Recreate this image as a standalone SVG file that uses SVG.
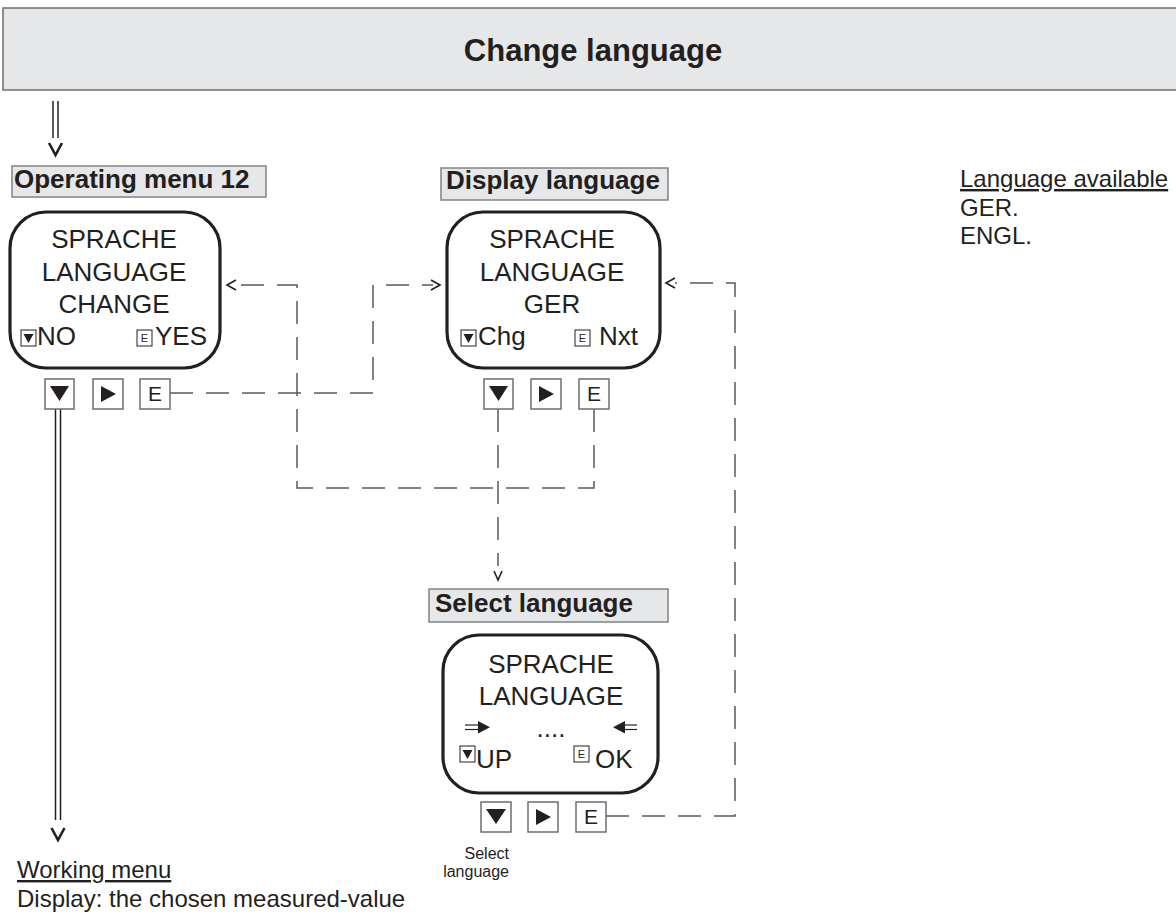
<svg xmlns="http://www.w3.org/2000/svg" width="1176" height="915" viewBox="0 0 1176 915">
<defs>
<style>
text{font-family:"Liberation Sans",Arial,sans-serif;fill:#231f20}
.lbl{fill:#e6e7e8;stroke:#808285;stroke-width:1.5}
.lt{font-size:26px;font-weight:bold}
.scr{fill:#fff;stroke:#231f20;stroke-width:3.2}
.st{font-size:26px;text-anchor:middle}
.sb{font-size:26px}
.sbox{fill:#fff;stroke:#231f20;stroke-width:1}
.se{font-size:11px;text-anchor:middle}
.btn{fill:#fff;stroke:#6d6e71;stroke-width:1.5}
.be{font-size:21px;text-anchor:middle}
.tri{fill:#231f20}
.dash{fill:none;stroke:#58595b;stroke-width:1.5;stroke-dasharray:23 13}
.solid{fill:none;stroke:#231f20;stroke-width:1.5}
.chev{fill:none;stroke:#231f20;stroke-width:2.6}
.ah{fill:none;stroke:#231f20;stroke-width:1.6}
.note{font-size:24px}
</style>
</defs>

<g id="header">
<rect x="3" y="8" width="1180" height="82" fill="#e6e7e8" stroke="#6d6e71" stroke-width="1.5"/>
<text x="593" y="61" font-size="31" font-weight="bold" text-anchor="middle">Change language</text>
</g>

<g id="connectors">
<!-- entry double arrow -->
<line class="solid" x1="53" y1="101" x2="53" y2="138"/>
<line class="solid" x1="58" y1="101" x2="58" y2="138"/>
<polyline class="chev" points="49,143 55.5,155 62,143"/>
<!-- exit double arrow to working menu -->
<line class="solid" x1="55.5" y1="409" x2="55.5" y2="820"/>
<line class="solid" x1="60.5" y1="409" x2="60.5" y2="820"/>
<polyline class="chev" points="51.5,828 58,840 64.5,828"/>
<!-- E (screen1) to Display language -->
<polyline class="dash" points="170,393 373,393 373,285 433,285"/>
<polyline class="ah" points="431,280 440,285 431,290"/>
<!-- E (screen2) back to screen1 -->
<polyline class="dash" points="594,409 594,488 297,488 297,285 235,285"/>
<polyline class="ah" points="236,280 227,285 236,290"/>
<!-- down (screen2) to Select language -->
<polyline class="dash" points="498,409 498,566"/>
<polyline class="ah" points="494,571 498,580 502,571"/>
<!-- E (screen3) back to screen2 -->
<polyline class="dash" points="606,816 735,816 735,283 675,283"/>
<polyline class="ah" points="675,278 666,283 675,288"/>
</g>

<g id="label-operating-menu">
<rect class="lbl" x="12" y="166" width="254" height="31"/>
<text class="lt" x="14" y="188">Operating menu 12</text>
</g>

<g id="screen-change">
<rect class="scr" x="10" y="212" width="210" height="156" rx="36" ry="36"/>
<text class="st" x="114" y="248">SPRACHE</text>
<text class="st" x="114" y="281">LANGUAGE</text>
<text class="st" x="114" y="313">CHANGE</text>
<rect class="sbox" x="21" y="330" width="15" height="16"/>
<polygon class="tri" points="23.5,334 33.5,334 28.5,343"/>
<text class="sb" x="37" y="345">NO</text>
<rect class="sbox" x="137" y="330" width="15" height="16"/>
<text class="se" x="144.5" y="342">E</text>
<text class="sb" x="155" y="345">YES</text>
</g>

<g id="buttons-change">
<rect class="btn" x="45" y="379" width="29" height="30"/>
<polygon class="tri" points="50,386 69,386 59.5,401"/>
<rect class="btn" x="93" y="379" width="30" height="30"/>
<polygon class="tri" points="101,386 116,394 101,402"/>
<rect class="btn" x="140" y="379" width="30" height="30"/>
<text class="be" x="155" y="401">E</text>
</g>

<g id="label-display-language">
<rect class="lbl" x="441" y="168" width="227" height="32"/>
<text class="lt" x="446" y="189">Display language</text>
</g>

<g id="screen-display">
<rect class="scr" x="447" y="212" width="213" height="156" rx="36" ry="36"/>
<text class="st" x="552" y="248">SPRACHE</text>
<text class="st" x="552" y="281">LANGUAGE</text>
<text class="st" x="552" y="313">GER</text>
<rect class="sbox" x="461" y="330" width="15" height="16"/>
<polygon class="tri" points="463.5,334 473.5,334 468.5,343"/>
<text class="sb" x="478" y="345">Chg</text>
<rect class="sbox" x="575" y="330" width="15" height="16"/>
<text class="se" x="582.5" y="342">E</text>
<text class="sb" x="599" y="345">Nxt</text>
</g>

<g id="buttons-display">
<rect class="btn" x="484" y="379" width="29" height="30"/>
<polygon class="tri" points="489,386 508,386 498.5,401"/>
<rect class="btn" x="531" y="379" width="30" height="30"/>
<polygon class="tri" points="539,386 554,394 539,402"/>
<rect class="btn" x="579" y="379" width="30" height="30"/>
<text class="be" x="594" y="401">E</text>
</g>

<g id="label-select-language">
<rect class="lbl" x="429" y="589" width="239" height="33"/>
<text class="lt" x="435" y="612">Select language</text>
</g>

<g id="screen-select">
<rect class="scr" x="443" y="635" width="215" height="158" rx="36" ry="36"/>
<text class="st" x="551" y="673">SPRACHE</text>
<text class="st" x="551" y="705">LANGUAGE</text>
<line x1="465" y1="725" x2="480" y2="725" stroke="#231f20" stroke-width="1.2"/>
<line x1="465" y1="729.5" x2="480" y2="729.5" stroke="#231f20" stroke-width="1.2"/>
<polygon class="tri" points="478,721 490,727.2 478,733.5"/>
<text class="st" x="551" y="737">....</text>
<line x1="623" y1="725" x2="637" y2="725" stroke="#231f20" stroke-width="1.2"/>
<line x1="623" y1="729.5" x2="637" y2="729.5" stroke="#231f20" stroke-width="1.2"/>
<polygon class="tri" points="625,721 613,727.2 625,733.5"/>
<rect class="sbox" x="460" y="746" width="15" height="16"/>
<polygon class="tri" points="462.5,750 472.5,750 467.5,759"/>
<text class="sb" x="476" y="768">UP</text>
<rect class="sbox" x="574" y="746" width="15" height="16"/>
<text class="se" x="581.5" y="758">E</text>
<text class="sb" x="595" y="768">OK</text>
</g>

<g id="buttons-select">
<rect class="btn" x="481" y="802" width="30" height="30"/>
<polygon class="tri" points="486,809 506,809 496,824"/>
<rect class="btn" x="528" y="802" width="30" height="30"/>
<polygon class="tri" points="536,809 551,817 536,825"/>
<rect class="btn" x="576" y="802" width="30" height="30"/>
<text class="be" x="591" y="824">E</text>
<text x="509" y="859" font-size="16" text-anchor="end">Select</text>
<text x="509" y="877" font-size="16" text-anchor="end">language</text>
</g>

<g id="note-working-menu">
<text class="note" x="17" y="878" text-decoration="underline">Working menu</text>
<text class="note" x="17" y="907">Display: the chosen measured-value</text>
</g>

<g id="note-languages">
<text class="note" x="960" y="187" text-decoration="underline">Language available</text>
<text class="note" x="960" y="216">GER.</text>
<text class="note" x="960" y="244">ENGL.</text>
</g>
</svg>
